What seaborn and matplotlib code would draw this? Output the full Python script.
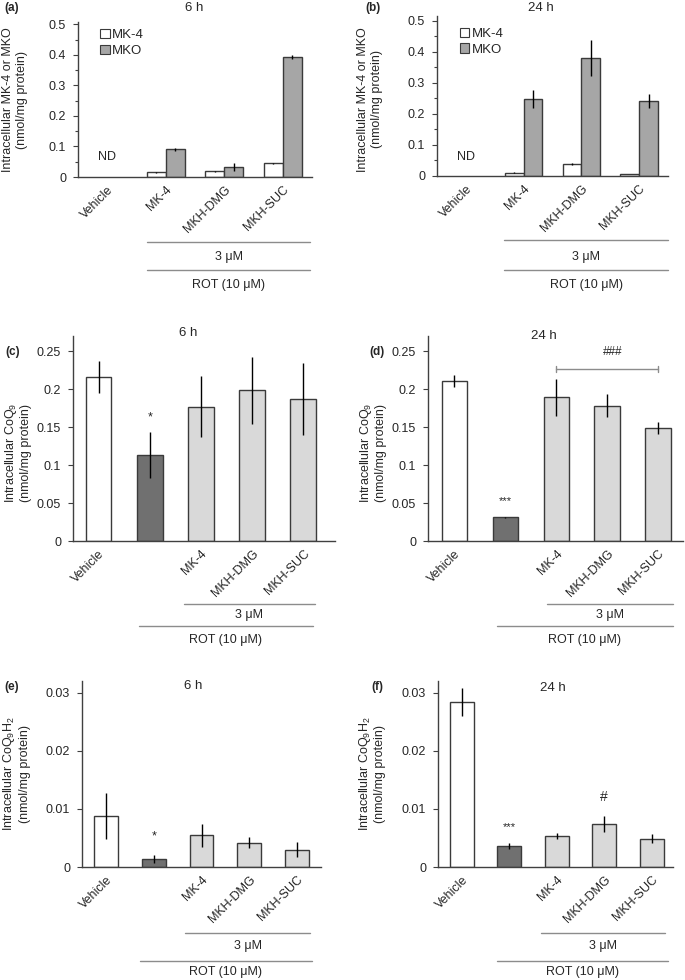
import numpy as np
import pandas as pd
import matplotlib
matplotlib.use("Agg")
import matplotlib.pyplot as plt
from matplotlib.lines import Line2D
import seaborn as sns

sns.set_theme(style="white")
plt.rcParams['font.family'] = ['Liberation Sans', 'DejaVu Sans']
plt.rcParams['mathtext.fontset'] = 'custom'
plt.rcParams['mathtext.rm'] = 'Liberation Sans'
plt.rcParams['mathtext.it'] = 'Liberation Sans:italic'
plt.rcParams['mathtext.bf'] = 'Liberation Sans:bold'

# ---------------- data ----------------
mk_categories = ["Vehicle", "MK-4", "MKH-DMG", "MKH-SUC"]
mk_treated = ["MK-4", "MKH-DMG", "MKH-SUC"]
series_names = ["MK-4", "MKO"]

a_mk4 = [0.015, 0.019, 0.045]
a_mk4_err = [0.003, 0.002, 0.002]
a_mko = [0.091, 0.033, 0.393]
a_mko_err = [0.005, 0.012, 0.008]

b_mk4 = [0.011, 0.040, 0.0065]
b_mk4_err = [0.002, 0.003, 0.001]
b_mko = [0.248, 0.381, 0.241]
b_mko_err = [0.028, 0.057, 0.022]

coq_categories = ["Vehicle", "ROT", "MK-4", "MKH-DMG", "MKH-SUC"]
coq_ticklabels = ["Vehicle", "", "MK-4", "MKH-DMG", "MKH-SUC"]

c_vals = [0.216, 0.1136, 0.177, 0.1985, 0.187]
c_err = [0.021, 0.030, 0.040, 0.044, 0.048]

d_vals = [0.2104, 0.031, 0.189, 0.178, 0.149]
d_err = [0.008, 0.001, 0.024, 0.015, 0.008]

e_vals = [0.00875, 0.00142, 0.00545, 0.0042, 0.0030]
e_err = [0.0040, 0.0007, 0.0020, 0.0010, 0.00125]

f_vals = [0.0284, 0.0036, 0.0053, 0.0074, 0.0049]
f_err = [0.0024, 0.0005, 0.0005, 0.0014, 0.0008]

mk_colors = {"MK-4": "#ffffff", "MKO": "#a6a6a6"}
coq_colors = ["#ffffff", "#707070", "#d9d9d9", "#d9d9d9", "#d9d9d9"]
EDGE = "#3a3a3a"
GRAY = "#8c8c8c"

W, H = 685, 980
fig = plt.figure(figsize=(W / 100, H / 100), dpi=100)


def ax_at(left, top, right, bottom):
    return fig.add_axes([left / W, 1 - bottom / H, (right - left) / W, (bottom - top) / H])


def style_axes(ax):
    sns.despine(ax=ax)
    for s in ("left", "bottom"):
        ax.spines[s].set_color("#404040")
        ax.spines[s].set_linewidth(1.0)
    ax.tick_params(axis="y", which="both", direction="out", left=True, length=3.5,
                   width=0.8, color="#404040", labelsize=9, pad=5)
    ax.tick_params(axis="y", which="minor", length=2.5)
    ax.tick_params(axis="x", length=0, labelsize=9, pad=5)
    ax.set_xlabel("")
    for lab in ax.get_xticklabels():
        lab.set_rotation(45)
        lab.set_ha("right")
        lab.set_rotation_mode("anchor")


def fig_hline(x0, x1, y):
    fig.add_artist(Line2D([x0 / W, x1 / W], [1 - y / H, 1 - y / H], color=GRAY, lw=1.0))


def fig_text(x, y, s, size=9, **kw):
    fig.text(x / W, 1 - y / H, s, ha="center", va="center", fontsize=size, **kw)


def group_lines(lines):
    (l1x0, l1x1, l1y, t1y, l2x0, l2x1, l2y, t2y) = lines
    fig_hline(l1x0, l1x1, l1y)
    fig_text((l1x0 + l1x1) / 2, t1y, "3 μM")
    fig_hline(l2x0, l2x1, l2y)
    fig_text((l2x0 + l2x1) / 2, t2y, "ROT (10 μM)")


def mk_panel(box, vals_mk4, err_mk4, vals_mko, err_mko, ylabel_xy, title, title_x, label, label_xy,
             legend_anchor, nd_y, ytop, lines):
    ax = ax_at(*box)
    df = pd.DataFrame({
        "cat": mk_treated * 2,
        "series": ["MK-4"] * 3 + ["MKO"] * 3,
        "val": list(vals_mk4) + list(vals_mko),
    })
    sns.barplot(data=df, x="cat", y="val", hue="series", order=mk_categories,
                hue_order=series_names, palette=mk_colors, errorbar=None, width=0.65,
                edgecolor=EDGE, linewidth=1.0, ax=ax, legend=True)
    errs = {"MK-4": dict(zip(mk_treated, err_mk4)), "MKO": dict(zip(mk_treated, err_mko))}
    for cont, name in zip(ax.containers, series_names):
        for bar in cont:
            h = bar.get_height()
            if not np.isfinite(h) or h == 0:
                continue
            xc = bar.get_x() + bar.get_width() / 2
            cat = mk_categories[int(round(xc))]
            ax.errorbar(xc, h, yerr=errs[name][cat], fmt="none", ecolor="black",
                        elinewidth=1.0, capsize=0)
    ax.set_xlim(-0.5, 3.5)
    ax.set_ylim(0, ytop)
    ax.set_yticks(np.arange(0, 0.51, 0.1))
    ax.set_yticks(np.arange(0.05, 0.5, 0.1), minor=True)
    ax.set_yticklabels(["0", "0.1", "0.2", "0.3", "0.4", "0.5"])
    ax.set_ylabel("Intracellular MK-4 or MKO\n(nmol/mg protein)", fontsize=9, linespacing=1.15)
    ax.yaxis.set_label_coords(*ylabel_xy)
    ax.text(0, nd_y, "ND", ha="center", va="center", fontsize=9)
    leg = ax.legend(loc="upper left", bbox_to_anchor=legend_anchor, frameon=False, fontsize=9.5,
                    handlelength=0.75, handleheight=0.75, handletextpad=0.2, labelspacing=0.25,
                    borderaxespad=0)
    for hd in leg.legend_handles:
        hd.set_edgecolor(EDGE)
        hd.set_linewidth(0.8)
    style_axes(ax)
    fig_text(title_x, 8, title, size=9.5)
    fig_text(label_xy[0], label_xy[1], label, size=8.5, fontweight="bold")
    group_lines(lines)
    return ax


def coq_panel(box, vals, errs, ylabel, ylabel_xy, xlim, ylim, yticks, yticklabels, title, title_xy,
              label, label_xy, lines):
    ax = ax_at(*box)
    df = pd.DataFrame({"cat": coq_categories, "val": vals})
    sns.barplot(data=df, x="cat", y="val", hue="cat", order=coq_categories, hue_order=coq_categories,
                palette=dict(zip(coq_categories, coq_colors)), errorbar=None, width=0.5,
                edgecolor=EDGE, linewidth=1.0, legend=False, ax=ax)
    ax.errorbar(np.arange(len(vals)), vals, yerr=errs, fmt="none", ecolor="black",
                elinewidth=1.0, capsize=0)
    ax.set_xlim(*xlim)
    ax.set_ylim(*ylim)
    ax.set_yticks(yticks)
    ax.set_yticklabels(yticklabels)
    ax.set_xticks(range(len(coq_categories)))
    ax.set_xticklabels(coq_ticklabels)
    ax.set_ylabel(ylabel, fontsize=9, linespacing=1.15)
    ax.yaxis.set_label_coords(*ylabel_xy)
    style_axes(ax)
    fig_text(title_xy[0], title_xy[1], title, size=9.5)
    fig_text(label_xy[0], label_xy[1], label, size=8.5, fontweight="bold")
    group_lines(lines)
    return ax


# (a)
mk_panel((78, 22, 312, 177), a_mk4, a_mk4_err, a_mko, a_mko_err, (-0.215, 0.5), "6 h", 194, "(a)",
         (12, 8), (0.07, 0.99), 0.064, 0.5075,
         (147, 310, 242, 257, 147, 310, 270, 285))
# (b)
mk_panel((437, 16, 668, 176), b_mk4, b_mk4_err, b_mko, b_mko_err, (-0.235, 0.48), "24 h", 541, "(b)",
         (373, 8), (0.075, 0.96), 0.061, 0.516,
         (504, 668, 240, 257, 504, 668, 270, 285))

coq_ticks = [0, 0.05, 0.1, 0.15, 0.2, 0.25]
coq_labels = ["0", "0.05", "0.1", "0.15", "0.2", "0.25"]
# (c)
axc = coq_panel((73, 336, 335, 541), c_vals, c_err, "Intracellular CoQ$_9$\n(nmol/mg protein)",
                (-0.155, 0.43), (-0.5, 4.62), (0, 0.27), coq_ticks, coq_labels, "6 h", (188, 333),
                "(c)", (13, 352), (184, 315, 604, 615, 139, 313, 626, 640))
axc.text(1, 0.163, "*", ha="center", va="center", fontsize=9)
# (d)
axd = coq_panel((428, 336, 683, 541), d_vals, d_err, "Intracellular CoQ$_9$\n(nmol/mg protein)",
                (-0.16, 0.43), (-0.52, 4.49), (0, 0.27), coq_ticks, coq_labels, "24 h", (544, 336),
                "(d)", (377, 352), (547, 673, 604, 615, 497, 673, 626, 640))
axd.text(1, 0.053, "***", ha="center", va="center", fontsize=8)
axd.plot([2, 4], [0.226, 0.226], color=GRAY, lw=1.0)
axd.plot([2, 2], [0.222, 0.230], color=GRAY, lw=1.0)
axd.plot([4, 4], [0.222, 0.230], color=GRAY, lw=1.0)
axd.text(3.1, 0.249, "###", ha="center", va="center", fontsize=8.5)

e_ticks = [0, 0.01, 0.02, 0.03]
e_labels = ["0", "0.01", "0.02", "0.03"]
# (e)
axe = coq_panel((82, 681, 321, 867), e_vals, e_err, "Intracellular CoQ$_9$H$_2$\n(nmol/mg protein)",
                (-0.215, 0.5), (-0.5, 4.5), (0, 0.032), e_ticks, e_labels, "6 h", (193, 686),
                "(e)", (12, 687), (185, 310, 933, 946, 140, 312, 961, 972))
axe.text(1, 0.0052, "*", ha="center", va="center", fontsize=9)
# (f)
axf = coq_panel((438, 681, 673, 867), f_vals, f_err, "Intracellular CoQ$_9$H$_2$\n(nmol/mg protein)",
                (-0.22, 0.5), (-0.5, 4.45), (0, 0.032), e_ticks, e_labels, "24 h", (553, 688),
                "(f)", (377, 687), (541, 665, 933, 946, 497, 668, 961, 972))
axf.text(1, 0.0068, "***", ha="center", va="center", fontsize=8)
axf.text(3, 0.012, "#", ha="center", va="center", fontsize=10)

fig.savefig("out.png", dpi=100, facecolor="white")
